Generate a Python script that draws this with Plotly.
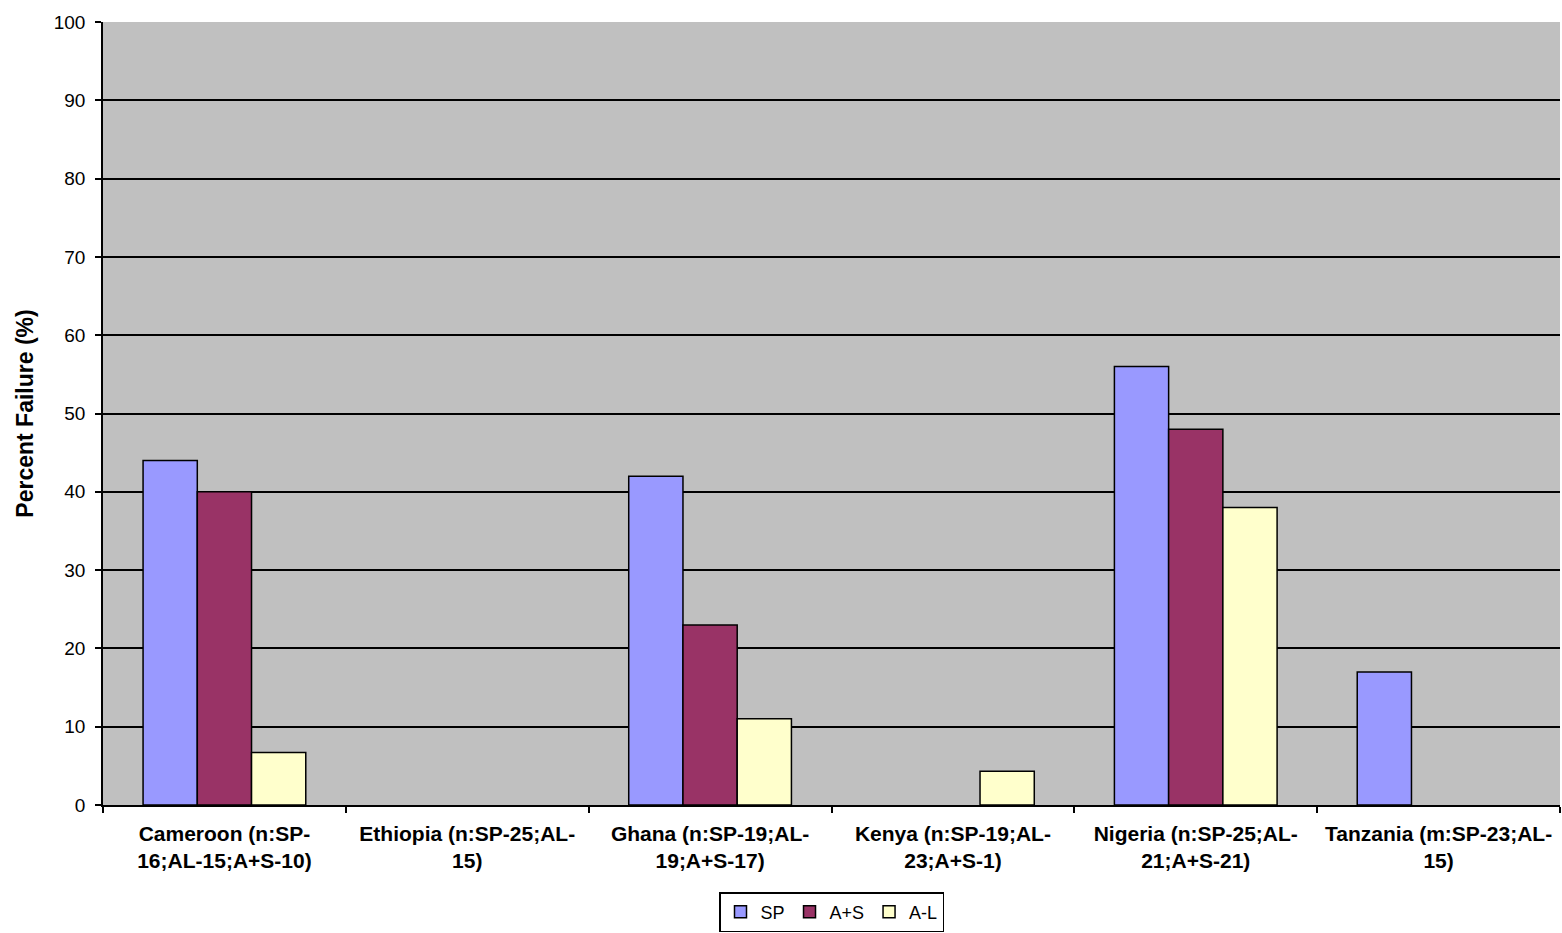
import plotly.graph_objects as go

categories = [
    "Cameroon (n:SP-<br>16;AL-15;A+S-10)",
    "Ethiopia (n:SP-25;AL-<br>15)",
    "Ghana (n:SP-19;AL-<br>19;A+S-17)",
    "Kenya (n:SP-19;AL-<br>23;A+S-1)",
    "Nigeria (n:SP-25;AL-<br>21;A+S-21)",
    "Tanzania (m:SP-23;AL-<br>15)",
]
sp = [44, None, 42, None, 56, 17]
a_s = [40, None, 23, None, 48, None]
a_l = [6.7, None, 11, 4.3, 38, None]
y_ticks = list(range(0, 101, 10))

series = [("SP", sp, "#9999FF"), ("A+S", a_s, "#993366"), ("A-L", a_l, "#FFFFCC")]

fig = go.Figure()
for name, vals, col in series:
    fig.add_trace(go.Bar(
        x=categories, y=vals, name=name,
        marker=dict(color=col, line=dict(color="black", width=1.5)),
    ))

font_family = "Liberation Sans, Arial, sans-serif"
fig.update_layout(
    width=1562, height=933,
    margin=dict(l=103, r=2, t=22, b=128, autoexpand=False),
    paper_bgcolor="white",
    plot_bgcolor="#C0C0C0",
    barmode="group",
    bargap=0.33,
    bargroupgap=0,
    font=dict(family=font_family, size=18, color="black"),
    showlegend=True,
    legend=dict(
        orientation="h", x=0.5, xanchor="center",
        yref="container", y=0.001, yanchor="bottom",
        bordercolor="black", borderwidth=1.5, bgcolor="white",
        font=dict(size=18), itemwidth=30, traceorder="normal",
        tracegroupgap=0,
    ),
    xaxis=dict(
        showline=True, linecolor="black", linewidth=1.5,
        ticks="outside", ticklen=6, tickcolor="black", tickwidth=1.5,
        tickson="boundaries",
        tickfont=dict(size=21, family=font_family, weight="bold"),
        ticklabelstandoff=9,
        showgrid=False,
    ),
    yaxis=dict(
        range=[0, 100], tickvals=y_ticks,
        showline=True, linecolor="black", linewidth=1.5,
        ticks="outside", ticklen=6, tickcolor="black", tickwidth=1.5,
        ticklabelstandoff=6,
        showgrid=True, gridcolor="black", gridwidth=1.5,
        zeroline=False,
        tickfont=dict(size=19),
        title=dict(text="<b>Percent Failure (%)</b>", font=dict(size=23), standoff=14),
    ),
)

fig.write_html(
    "out.html",
    config={"displayModeBar": False},
    post_script="document.body.style.margin='0';document.body.style.overflow='hidden';",
)
